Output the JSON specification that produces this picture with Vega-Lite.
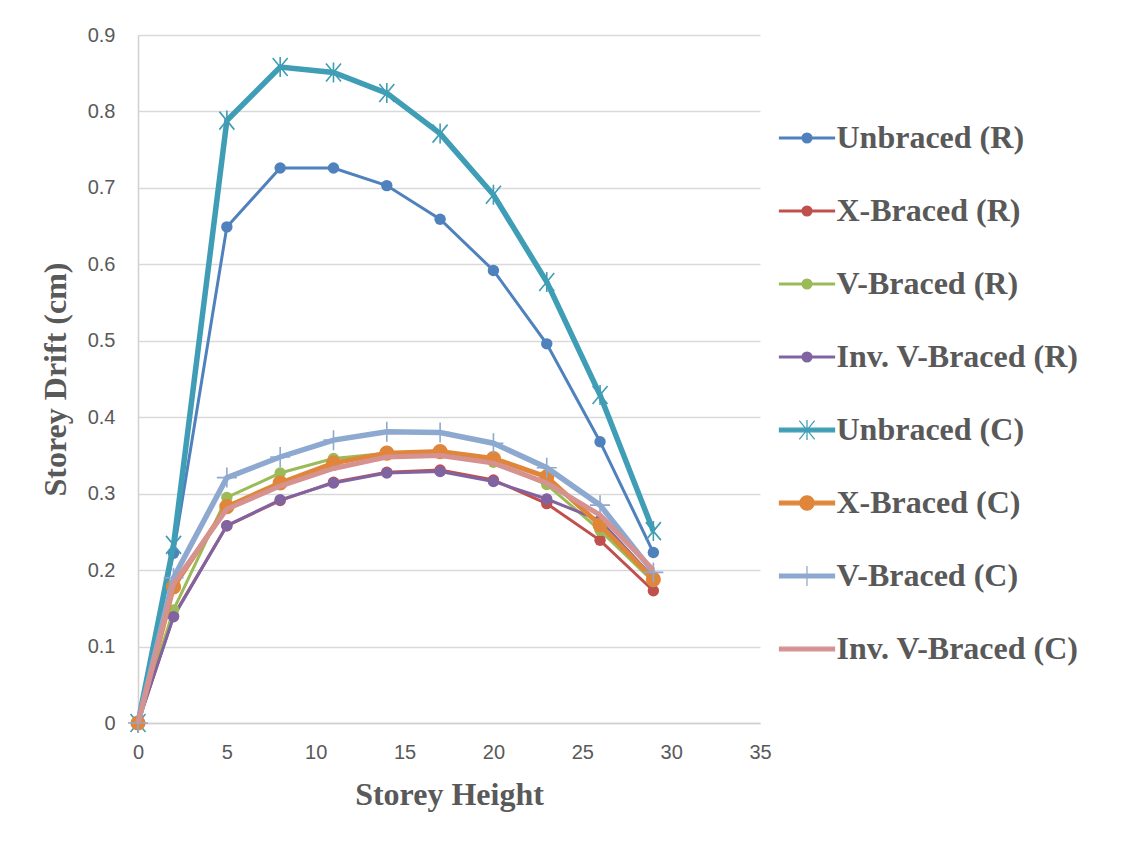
{
  "$schema": "https://vega.github.io/schema/vega-lite/v6.json",
  "width": 622,
  "height": 688,
  "autosize": {"type": "none"},
  "padding": {"left": 138, "top": 35, "right": 376, "bottom": 120},
  "background": "white",
  "config": {
    "view": {"stroke": null},
    "axis": {
      "labelFont": "Liberation Sans",
      "labelFontSize": 20,
      "labelColor": "#595959",
      "labelFlush": false,
      "titleFont": "Liberation Serif",
      "titleFontWeight": "bold",
      "titleFontSize": 32,
      "titleColor": "#595959",
      "ticks": false,
      "domainColor": "#D0D0D0",
      "domainWidth": 1.5,
      "gridColor": "#D9D9D9",
      "gridWidth": 1.5
    }
  },
  "data": {
    "values": [
      {"h": 0, "drift": 0, "series": "Unbraced (R)"},
      {"h": 2, "drift": 0.222, "series": "Unbraced (R)"},
      {"h": 5, "drift": 0.649, "series": "Unbraced (R)"},
      {"h": 8, "drift": 0.726, "series": "Unbraced (R)"},
      {"h": 11, "drift": 0.726, "series": "Unbraced (R)"},
      {"h": 14, "drift": 0.703, "series": "Unbraced (R)"},
      {"h": 17, "drift": 0.659, "series": "Unbraced (R)"},
      {"h": 20, "drift": 0.592, "series": "Unbraced (R)"},
      {"h": 23, "drift": 0.496, "series": "Unbraced (R)"},
      {"h": 26, "drift": 0.368, "series": "Unbraced (R)"},
      {"h": 29, "drift": 0.223, "series": "Unbraced (R)"},
      {"h": 0, "drift": 0, "series": "X-Braced (R)"},
      {"h": 2, "drift": 0.14, "series": "X-Braced (R)"},
      {"h": 5, "drift": 0.258, "series": "X-Braced (R)"},
      {"h": 8, "drift": 0.291, "series": "X-Braced (R)"},
      {"h": 11, "drift": 0.315, "series": "X-Braced (R)"},
      {"h": 14, "drift": 0.328, "series": "X-Braced (R)"},
      {"h": 17, "drift": 0.331, "series": "X-Braced (R)"},
      {"h": 20, "drift": 0.318, "series": "X-Braced (R)"},
      {"h": 23, "drift": 0.287, "series": "X-Braced (R)"},
      {"h": 26, "drift": 0.239, "series": "X-Braced (R)"},
      {"h": 29, "drift": 0.173, "series": "X-Braced (R)"},
      {"h": 0, "drift": 0, "series": "V-Braced (R)"},
      {"h": 2, "drift": 0.148, "series": "V-Braced (R)"},
      {"h": 5, "drift": 0.295, "series": "V-Braced (R)"},
      {"h": 8, "drift": 0.327, "series": "V-Braced (R)"},
      {"h": 11, "drift": 0.346, "series": "V-Braced (R)"},
      {"h": 14, "drift": 0.353, "series": "V-Braced (R)"},
      {"h": 17, "drift": 0.354, "series": "V-Braced (R)"},
      {"h": 20, "drift": 0.341, "series": "V-Braced (R)"},
      {"h": 23, "drift": 0.312, "series": "V-Braced (R)"},
      {"h": 26, "drift": 0.252, "series": "V-Braced (R)"},
      {"h": 29, "drift": 0.185, "series": "V-Braced (R)"},
      {"h": 0, "drift": 0, "series": "Inv. V-Braced (R)"},
      {"h": 2, "drift": 0.139, "series": "Inv. V-Braced (R)"},
      {"h": 5, "drift": 0.258, "series": "Inv. V-Braced (R)"},
      {"h": 8, "drift": 0.292, "series": "Inv. V-Braced (R)"},
      {"h": 11, "drift": 0.314, "series": "Inv. V-Braced (R)"},
      {"h": 14, "drift": 0.327, "series": "Inv. V-Braced (R)"},
      {"h": 17, "drift": 0.329, "series": "Inv. V-Braced (R)"},
      {"h": 20, "drift": 0.316, "series": "Inv. V-Braced (R)"},
      {"h": 23, "drift": 0.293, "series": "Inv. V-Braced (R)"},
      {"h": 26, "drift": 0.265, "series": "Inv. V-Braced (R)"},
      {"h": 29, "drift": 0.19, "series": "Inv. V-Braced (R)"},
      {"h": 0, "drift": 0, "series": "Unbraced (C)"},
      {"h": 2, "drift": 0.233, "series": "Unbraced (C)"},
      {"h": 5, "drift": 0.788, "series": "Unbraced (C)"},
      {"h": 8, "drift": 0.858, "series": "Unbraced (C)"},
      {"h": 11, "drift": 0.851, "series": "Unbraced (C)"},
      {"h": 14, "drift": 0.824, "series": "Unbraced (C)"},
      {"h": 17, "drift": 0.771, "series": "Unbraced (C)"},
      {"h": 20, "drift": 0.691, "series": "Unbraced (C)"},
      {"h": 23, "drift": 0.577, "series": "Unbraced (C)"},
      {"h": 26, "drift": 0.429, "series": "Unbraced (C)"},
      {"h": 29, "drift": 0.251, "series": "Unbraced (C)"},
      {"h": 0, "drift": 0, "series": "X-Braced (C)"},
      {"h": 2, "drift": 0.178, "series": "X-Braced (C)"},
      {"h": 5, "drift": 0.283, "series": "X-Braced (C)"},
      {"h": 8, "drift": 0.314, "series": "X-Braced (C)"},
      {"h": 11, "drift": 0.34, "series": "X-Braced (C)"},
      {"h": 14, "drift": 0.353, "series": "X-Braced (C)"},
      {"h": 17, "drift": 0.355, "series": "X-Braced (C)"},
      {"h": 20, "drift": 0.346, "series": "X-Braced (C)"},
      {"h": 23, "drift": 0.322, "series": "X-Braced (C)"},
      {"h": 26, "drift": 0.259, "series": "X-Braced (C)"},
      {"h": 29, "drift": 0.188, "series": "X-Braced (C)"},
      {"h": 0, "drift": 0, "series": "V-Braced (C)"},
      {"h": 2, "drift": 0.19, "series": "V-Braced (C)"},
      {"h": 5, "drift": 0.321, "series": "V-Braced (C)"},
      {"h": 8, "drift": 0.348, "series": "V-Braced (C)"},
      {"h": 11, "drift": 0.37, "series": "V-Braced (C)"},
      {"h": 14, "drift": 0.381, "series": "V-Braced (C)"},
      {"h": 17, "drift": 0.38, "series": "V-Braced (C)"},
      {"h": 20, "drift": 0.366, "series": "V-Braced (C)"},
      {"h": 23, "drift": 0.334, "series": "V-Braced (C)"},
      {"h": 26, "drift": 0.285, "series": "V-Braced (C)"},
      {"h": 29, "drift": 0.197, "series": "V-Braced (C)"},
      {"h": 0, "drift": 0, "series": "Inv. V-Braced (C)"},
      {"h": 2, "drift": 0.182, "series": "Inv. V-Braced (C)"},
      {"h": 5, "drift": 0.28, "series": "Inv. V-Braced (C)"},
      {"h": 8, "drift": 0.31, "series": "Inv. V-Braced (C)"},
      {"h": 11, "drift": 0.333, "series": "Inv. V-Braced (C)"},
      {"h": 14, "drift": 0.348, "series": "Inv. V-Braced (C)"},
      {"h": 17, "drift": 0.35, "series": "Inv. V-Braced (C)"},
      {"h": 20, "drift": 0.34, "series": "Inv. V-Braced (C)"},
      {"h": 23, "drift": 0.314, "series": "Inv. V-Braced (C)"},
      {"h": 26, "drift": 0.272, "series": "Inv. V-Braced (C)"},
      {"h": 29, "drift": 0.2, "series": "Inv. V-Braced (C)"}
    ]
  },
  "encoding": {
    "x": {
      "field": "h",
      "type": "quantitative",
      "scale": {"domain": [0, 35], "nice": false, "zero": false},
      "axis": {
        "title": "Storey Height",
        "values": [0, 5, 10, 15, 20, 25, 30, 35],
        "grid": false,
        "labelPadding": 19,
        "titlePadding": 17
      }
    },
    "y": {
      "field": "drift",
      "type": "quantitative",
      "scale": {"domain": [0, 0.9], "nice": false},
      "axis": {
        "title": "Storey Drift (cm)",
        "values": [0, 0.1, 0.2, 0.3, 0.4, 0.5, 0.6, 0.7, 0.8, 0.9],
        "format": ".1~f",
        "labelPadding": 23,
        "titlePadding": 15
      }
    },
    "color": {
      "field": "series",
      "type": "nominal",
      "scale": {
        "domain": ["Unbraced (R)", "X-Braced (R)", "V-Braced (R)", "Inv. V-Braced (R)", "Unbraced (C)", "X-Braced (C)", "V-Braced (C)", "Inv. V-Braced (C)"],
        "range": ["#4F81BD", "#C0504D", "#9BBB59", "#8064A2", "#3F9DB5", "#E0863A", "#8EA9D0", "#D59290"]
      },
      "legend": {
        "title": null,
        "orient": "right",
        "offset": -56.5,
        "padding": 74.5,
        "symbolSize": 3025,
        "symbolStrokeWidth": 1.25,
        "symbolOpacity": 1,
        "rowPadding": 28,
        "labelOffset": 1,
        "labelFont": "Liberation Serif",
        "labelFontWeight": "bold",
        "labelFontSize": 32,
        "labelColor": "#595959",
        "labelLimit": 400,
        "encode": {
          "symbols": {
            "update": {
              "shape": {"signal": "datum.value === 'Unbraced (C)' ? 'M-1,-0.064H1V0.064H-1ZM-0.28,-0.34L0.28,0.34M-0.28,0.34L0.28,-0.34M0,-0.36V0.36' : datum.value === 'X-Braced (C)' ? 'M-1,-0.064H1V0.064H-1ZM-0.26,0A0.26,0.26,0,1,1,0.26,0A0.26,0.26,0,1,1,-0.26,0Z' : datum.value === 'V-Braced (C)' ? 'M-1,-0.07H1V0.07H-1ZM0,-0.36V0.36' : datum.value === 'Inv. V-Braced (C)' ? 'M-1,-0.064H1V0.064H-1Z' : 'M-1,-0.036H1V0.036H-1ZM-0.18,0A0.18,0.18,0,1,1,0.18,0A0.18,0.18,0,1,1,-0.18,0Z'"},
              "fill": {"signal": "scale('color', datum.value)"}
            }
          }
        }
      }
    }
  },
  "layer": [
    {
      "transform": [{"filter": "indexof(datum.series, '(R)') >= 0"}],
      "mark": {"type": "line", "strokeWidth": 3},
      "encoding": {}
    },
    {
      "transform": [{"filter": "indexof(datum.series, '(R)') >= 0"}],
      "mark": {"type": "point", "shape": "circle", "filled": true, "size": 130, "opacity": 1},
      "encoding": {}
    },
    {
      "transform": [{"filter": "datum.series === 'Unbraced (C)'"}],
      "mark": {"type": "line", "strokeWidth": 5.5},
      "encoding": {}
    },
    {
      "transform": [{"filter": "datum.series === 'Unbraced (C)'"}],
      "mark": {"type": "point", "shape": "M-0.75,-0.9L0.75,0.9M-0.75,0.9L0.75,-0.9M0,-1V1", "filled": false, "size": 400, "strokeWidth": 1.6, "opacity": 1},
      "encoding": {}
    },
    {
      "transform": [{"filter": "datum.series === 'X-Braced (C)'"}],
      "mark": {"type": "line", "strokeWidth": 5},
      "encoding": {}
    },
    {
      "transform": [{"filter": "datum.series === 'X-Braced (C)'"}],
      "mark": {"type": "point", "shape": "circle", "filled": true, "size": 230, "opacity": 1},
      "encoding": {}
    },
    {
      "transform": [{"filter": "datum.series === 'V-Braced (C)'"}],
      "mark": {"type": "line", "strokeWidth": 5.5},
      "encoding": {}
    },
    {
      "transform": [{"filter": "datum.series === 'V-Braced (C)'"}],
      "mark": {"type": "point", "shape": "M0,-1V1M-1,0H1", "filled": false, "size": 400, "strokeWidth": 1.6, "opacity": 1},
      "encoding": {}
    },
    {
      "transform": [{"filter": "datum.series === 'Inv. V-Braced (C)'"}],
      "mark": {"type": "line", "strokeWidth": 5},
      "encoding": {}
    }
  ]
}
